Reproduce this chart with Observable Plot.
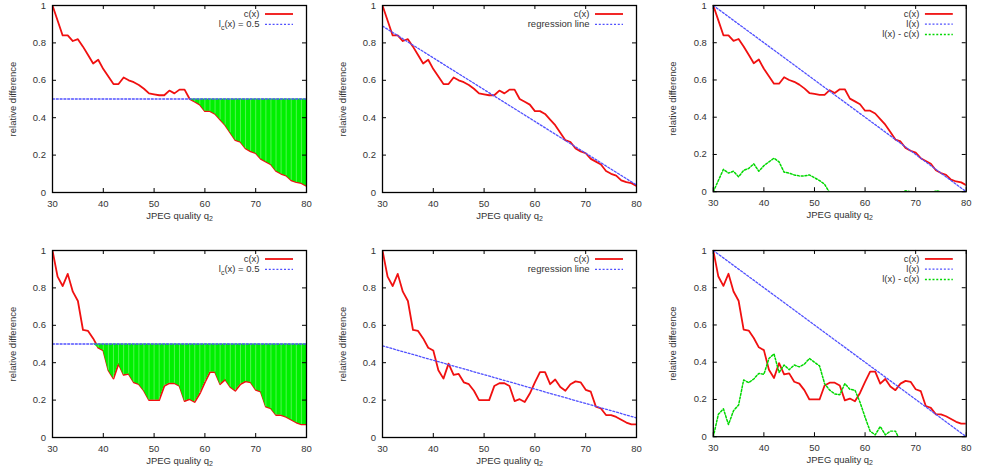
<!DOCTYPE html>
<html><head><meta charset="utf-8">
<script src="https://cdn.jsdelivr.net/npm/d3@7"></script>
<script src="https://cdn.jsdelivr.net/npm/@observablehq/plot@0.6"></script>
<style>
html,body{margin:0;padding:0;background:#fff;}
#chart{position:relative;width:982px;height:474px;overflow:hidden;background:#fff;}
.panel{position:absolute;}
</style></head><body><div id="chart"></div>
<script>
// ---------- data ----------
const quality = [30,31,32,33,34,35,36,37,38,39,40,41,42,43,44,45,46,47,48,49,50,51,52,53,54,55,56,57,58,59,60,61,62,63,64,65,66,67,68,69,70,71,72,73,74,75,76,77,78,79,80];
const cTop = [1.00,0.92,0.84,0.84,0.81,0.82,0.78,0.735,0.69,0.71,0.66,0.62,0.58,0.58,0.615,0.60,0.59,0.575,0.555,0.53,0.525,0.52,0.52,0.545,0.53,0.55,0.55,0.50,0.485,0.47,0.435,0.435,0.42,0.39,0.36,0.32,0.28,0.27,0.235,0.22,0.21,0.18,0.165,0.15,0.115,0.10,0.09,0.065,0.055,0.05,0.035];
const cBottom = [1.00,0.86,0.81,0.875,0.78,0.73,0.575,0.57,0.53,0.48,0.465,0.36,0.315,0.395,0.335,0.34,0.295,0.285,0.25,0.20,0.20,0.20,0.275,0.29,0.29,0.275,0.195,0.205,0.19,0.235,0.295,0.35,0.35,0.285,0.31,0.27,0.25,0.285,0.30,0.295,0.255,0.245,0.165,0.155,0.12,0.12,0.11,0.095,0.08,0.07,0.07];
const diffTop = [0,0.06,0.12,0.10,0.11,0.08,0.115,0.125,0.15,0.11,0.14,0.16,0.18,0.16,0.105,0.10,0.09,0.085,0.085,0.09,0.075,0.06,0.04,-0.005,-0.01,-0.05,-0.07,-0.04,-0.045,-0.05,-0.035,-0.055,-0.06,-0.05,-0.04,-0.02,0,-0.01,0.005,0,-0.01,0,-0.005,-0.01,0.005,0,-0.01,-0.005,-0.015,-0.03,-0.035];
const diffBottom = [0,0.12,0.15,0.065,0.14,0.17,0.305,0.29,0.31,0.34,0.335,0.42,0.445,0.345,0.385,0.36,0.385,0.375,0.39,0.42,0.40,0.38,0.285,0.25,0.23,0.225,0.285,0.255,0.25,0.185,0.105,0.03,0.01,0.055,0.01,0.03,0.03,-0.025,-0.06,-0.075,-0.055,-0.065,-0.005,-0.015,0,-0.02,-0.03,-0.035,-0.04,-0.05,-0.07];
const lineEnds = [30, 80];
const constTop = [0.5, 0.5];
const constBottom = [0.5, 0.5];
const regTop = [0.89, 0.04];
const regBottom = [0.49, 0.105];
const lTop = [1, 0];
const lBottom = [1, 0];
const xTicks = [30,40,50,60,70,80];
const yTicks = [0,0.2,0.4,0.6,0.8,1];
const xTitle = "JPEG quality q_2";
const yTitle = "relative difference";
const labelC = "c(x)";
const labelConst = "l_c(x) = 0.5";
const labelReg = "regression line";
const labelL = "l(x)";
const labelDiff = "l(x) - c(x)";

// ---------- style / layout ----------
const RED = "#f01010", BLUE = "#5050ff", GREEN = "#00d800", FILL = "#00f000", TXT = "#333";
const DOT = "2,1.8";
const PW = 254, PH = 187, ML = 52, MT = 5, MR = 16, MB = 37;
const colLeft = [51.7, 381.7, 713.3];
const rowTop = [5, 250];

function pxToX(pxFromRight){ return 80 - pxFromRight / PW * 50; }
function pxToY(pxFromTop){ return 1 - pxFromTop / PH; }

function panel({c, refVals, refLabel, diff, fill}) {
  const rows = quality.map((q, i) => ({q, c: c[i], d: diff ? diff[i] : null}));
  const refRows = lineEnds.map((q, i) => ({q, v: refVals[i]}));
  const marks = [];
  marks.push(Plot.line(rows, {x: "q", y: "c", stroke: RED, strokeWidth: 1.8, clip: true}));
  if (fill) {
    const lvl = refVals[0];
    marks.push(Plot.areaY(rows, {x: "q", y1: d => Math.min(d.c, lvl), y2: lvl, fill: FILL, clip: true}));
    marks.push(Plot.ruleX(rows.filter(d => d.c < lvl), {x: "q", y1: "c", y2: lvl, stroke: "white", strokeOpacity: 0.45, strokeWidth: 0.7}));
  }
  marks.push(Plot.line(refRows, {x: "q", y: "v", stroke: BLUE, strokeWidth: 1.3, strokeDasharray: DOT, clip: true}));
  if (diff) {
    marks.push(Plot.line(rows, {x: "q", y: "d", stroke: GREEN, strokeWidth: 1.5, strokeDasharray: DOT, clip: true}));
  }
  // frame + inward ticks on all sides
  marks.push(Plot.frame({stroke: "black", strokeWidth: 1.3}));
  marks.push(Plot.tickX(xTicks, {x: d => d, insetTop: PH - 4, stroke: "black"}));
  marks.push(Plot.tickX(xTicks, {x: d => d, insetBottom: PH - 4, stroke: "black"}));
  marks.push(Plot.tickY(yTicks, {y: d => d, insetRight: PW - 4, stroke: "black"}));
  marks.push(Plot.tickY(yTicks, {y: d => d, insetLeft: PW - 4, stroke: "black"}));
  // axis titles
  marks.push(Plot.text([xTitle], {text: d => d, frameAnchor: "bottom", dy: 23, textAnchor: "middle", lineAnchor: "middle", fill: TXT}));
  marks.push(Plot.text([yTitle], {text: d => d, frameAnchor: "left", dx: -40, rotate: -90, textAnchor: "middle", lineAnchor: "middle", fill: TXT}));
  // key
  const entries = [{label: labelC, stroke: RED, dash: null, w: 1.8}, {label: refLabel, stroke: BLUE, dash: DOT, w: 1.3}];
  if (diff) entries.push({label: labelDiff, stroke: GREEN, dash: DOT, w: 1.5});
  entries.forEach((e, i) => {
    const off = 8.5 + i * 10.3;
    marks.push(Plot.text([e.label], {text: d => d, frameAnchor: "top-right", dx: -47, dy: off, textAnchor: "end", lineAnchor: "middle", fill: TXT}));
    marks.push(Plot.ruleY([pxToY(off)], {y: d => d, x1: pxToX(41), x2: pxToX(13), stroke: e.stroke, strokeWidth: e.w, strokeDasharray: e.dash}));
  });
  const svg = Plot.plot({
    width: ML + PW + MR, height: MT + PH + MB,
    marginLeft: ML, marginTop: MT, marginRight: MR, marginBottom: MB,
    x: {domain: [30, 80], ticks: xTicks, tickSize: 0, tickPadding: 8, tickFormat: d => String(d), label: null},
    y: {domain: [0, 1], ticks: yTicks, tickSize: 0, tickPadding: 6.5, tickFormat: d => String(d), label: null},
    style: {fontFamily: "'Liberation Sans', Arial, sans-serif", fontSize: "9.5px", color: TXT, background: "transparent", overflow: "visible"},
    marks
  });
  subscripts(svg);
  return svg;
}

function subscripts(svg) {
  d3.select(svg).selectAll("text").each(function() {
    const t = this.textContent;
    if (!t.includes("_")) return;
    const parts = t.split(/_(\w)/);
    this.textContent = "";
    parts.forEach((p, k) => {
      const ts = document.createElementNS("http://www.w3.org/2000/svg", "tspan");
      ts.textContent = p;
      if (k % 2 === 1) { ts.setAttribute("font-size", "7px"); ts.setAttribute("dy", "2.5"); }
      else if (k > 0) { ts.setAttribute("dy", "-2.5"); }
      this.appendChild(ts);
    });
  });
}

const configs = [
  {c: cTop, refVals: constTop, refLabel: labelConst, fill: true},
  {c: cTop, refVals: regTop, refLabel: labelReg},
  {c: cTop, refVals: lTop, refLabel: labelL, diff: diffTop},
  {c: cBottom, refVals: constBottom, refLabel: labelConst, fill: true},
  {c: cBottom, refVals: regBottom, refLabel: labelReg},
  {c: cBottom, refVals: lBottom, refLabel: labelL, diff: diffBottom}
];
const chart = document.getElementById("chart");
configs.forEach((cfg, i) => {
  const div = document.createElement("div");
  div.className = "panel";
  div.style.left = (colLeft[i % 3] - ML) + "px";
  div.style.top = (rowTop[Math.floor(i / 3)] - MT) + "px";
  div.appendChild(panel(cfg));
  chart.appendChild(div);
});
</script></body></html>
